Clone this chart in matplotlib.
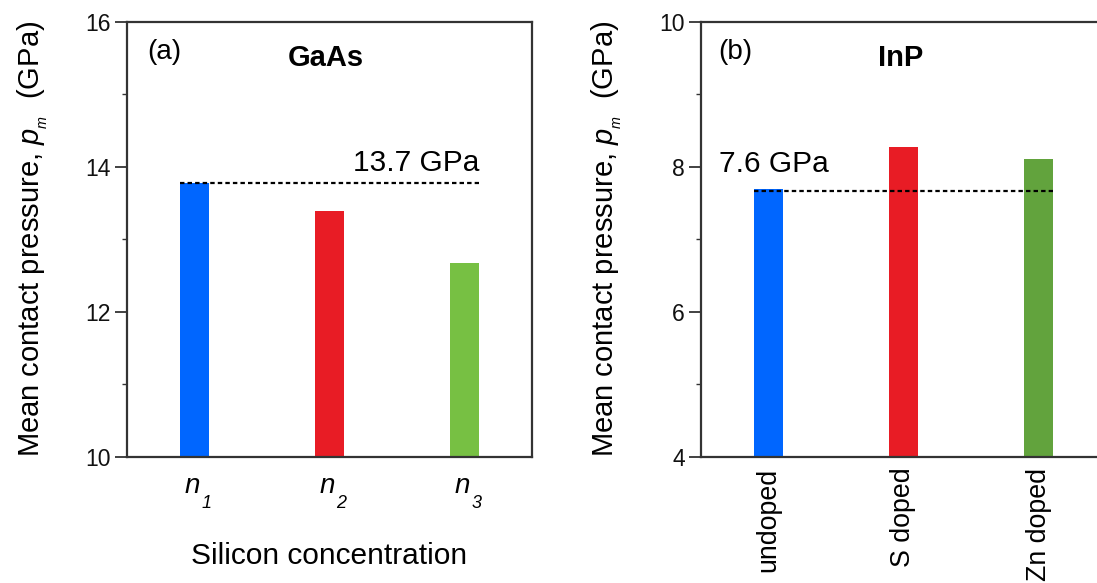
import numpy as np
import matplotlib
matplotlib.use('Agg')
import matplotlib.pyplot as plt
from matplotlib.ticker import MultipleLocator

plt.rcParams['font.family'] = ['Liberation Sans', 'DejaVu Sans']
plt.rcParams['mathtext.fontset'] = 'custom'
plt.rcParams['mathtext.rm'] = 'Liberation Sans'
plt.rcParams['mathtext.it'] = 'Liberation Sans:italic'
plt.rcParams['mathtext.bf'] = 'Liberation Sans:bold'

# data
gaas_base = 'n'
gaas_subs = ['1', '2', '3']
gaas_values = [13.77, 13.39, 12.67]
gaas_colors = ['#0066FF', '#E81C25', '#77C043']
gaas_ref = 13.77

inp_labels = ['undoped', 'S doped', 'Zn doped']
inp_values = [7.69, 8.27, 8.10]
inp_colors = ['#0066FF', '#E81C25', '#62A33D']
inp_ref = 7.67

ylabel = r'Mean contact pressure, $\it{p}_{_{m}}$  (GPa)'

W, H = 1097, 583
fig = plt.figure(figsize=(W/100, H/100), dpi=100)
ax1 = fig.add_axes([127/W, 1-456.6/H, 405/W, 435/H])
ax2 = fig.add_axes([701/W, 1-456.6/H, 405/W, 435/H])

bw = 0.215
x = np.arange(3)

def style(ax, ylim, major):
    ax.set_xlim(-0.5, 2.5)
    ax.set_ylim(*ylim)
    ax.yaxis.set_major_locator(MultipleLocator(major))
    ax.yaxis.set_minor_locator(MultipleLocator(major/2))
    ax.tick_params(axis='y', which='major', direction='out', length=8.5, width=1.3,
                   labelsize=16.5, pad=3, colors='#333333', labelcolor='#111111')
    ax.tick_params(axis='y', which='minor', direction='out', length=3.6, width=1.0,
                   colors='#333333')
    ax.tick_params(axis='x', length=0)
    for s in ax.spines.values():
        s.set_linewidth(1.6)
        s.set_color('#333333')
    ax.set_ylabel(ylabel, fontsize=21)

# (a) GaAs
ax1.bar(x, gaas_values, width=bw, color=gaas_colors)
ax1.plot([x[0]-bw/2, x[2]+bw/2], [gaas_ref, gaas_ref], color='black',
         linestyle=(0, (2, 1.4)), lw=1.6)
style(ax1, (10, 16), 2)
ax1.set_xticks(x)
ax1.set_xticklabels([])
# italic n with a low, small italic subscript under each bar
for xi, sub in zip(x, gaas_subs):
    ax1.annotate(gaas_base, xy=(xi, 0), xycoords=('data', 'axes fraction'),
                 xytext=(-1.8, -26.2), textcoords='offset points',
                 ha='center', va='baseline', fontsize=20, fontstyle='italic',
                 annotation_clip=False)
    ax1.annotate(sub, xy=(xi, 0), xycoords=('data', 'axes fraction'),
                 xytext=(5, -37), textcoords='offset points',
                 ha='left', va='baseline', fontsize=13, fontstyle='italic',
                 annotation_clip=False)
ax1.set_xlabel('Silicon concentration', fontsize=21.5, labelpad=58)
ax1.yaxis.set_label_coords(-0.19, 0.5)
ax1.text(2.11, 13.94, '13.7 GPa', ha='right', va='baseline', fontsize=21.5)
ax1.text(-0.35, 15.58, '(a)', ha='left', va='center', fontsize=20)
ax1.text(0.97, 15.50, 'GaAs', ha='center', va='center', fontsize=21, fontweight='bold')

# (b) InP
ax2.bar(x, inp_values, width=bw, color=inp_colors)
ax2.plot([x[0]-bw/2, x[2]+bw/2], [inp_ref, inp_ref], color='black',
         linestyle=(0, (2, 1.4)), lw=1.6)
style(ax2, (4, 10), 2)
ax2.set_xticks(x)
ax2.set_xticklabels(inp_labels, fontsize=19.3, rotation=90)
ax2.tick_params(axis='x', pad=8)
ax2.yaxis.set_label_coords(-0.19, 0.5)
ax2.text(-0.367, 7.93, '7.6 GPa', ha='left', va='baseline', fontsize=21.5)
ax2.text(-0.37, 9.58, '(b)', ha='left', va='center', fontsize=20)
ax2.text(0.98, 9.50, 'InP', ha='center', va='center', fontsize=21, fontweight='bold')

fig.savefig('out.png', dpi=100)
